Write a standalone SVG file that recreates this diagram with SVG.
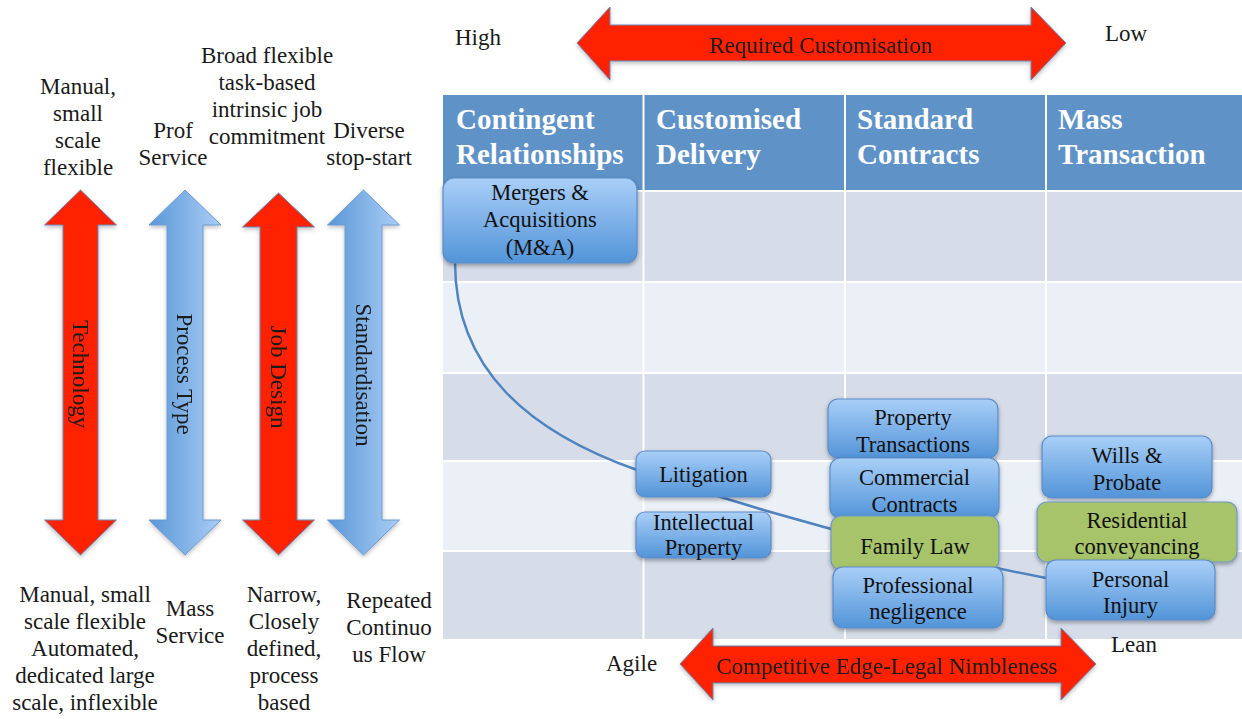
<svg xmlns="http://www.w3.org/2000/svg" width="1242" height="719" viewBox="0 0 1242 719">
<style>
  .t { font-family: "Liberation Serif", "Times New Roman", serif; font-size: 23px; fill: #1a1a1a; }
  .c { text-anchor: middle; }
  .n { font-family: "Liberation Serif", "Times New Roman", serif; font-size: 22.5px; fill: #111; text-anchor: middle; }
  .h { font-family: "Liberation Serif", "Times New Roman", serif; font-size: 29px; font-weight: bold; fill: #ffffff; }
  .hdr { fill: #5f93c8; }
  .dark { fill: #d6dde9; }
  .light { fill: #ebeff6; }
  .grid { stroke: #ffffff; stroke-width: 2; }
  .red { fill: #ff2200; stroke: #6a87b8; stroke-width: 1; }
  .blue { fill: url(#blueArrow); stroke: #6a9ad0; stroke-width: 1; }
  .box { fill: url(#nodeGrad); stroke: #5c8cc8; stroke-width: 1.2; filter: url(#shadow); }
  .green { fill: #a8c46a; stroke: #6f97c8; stroke-width: 1.2; filter: url(#shadow); }
  .conn { fill: none; stroke: #4f84c0; stroke-width: 2.5; }
</style>
<defs>
  <linearGradient id="blueArrow" x1="0" y1="0" x2="1" y2="0">
    <stop offset="0" stop-color="#5a97d6"/>
    <stop offset="1" stop-color="#a9cdf6"/>
  </linearGradient>
  <linearGradient id="nodeGrad" x1="0" y1="0" x2="0" y2="1">
    <stop offset="0" stop-color="#a9cff8"/>
    <stop offset="1" stop-color="#5294d8"/>
  </linearGradient>
  <filter id="shadow" x="-10%" y="-10%" width="125%" height="135%">
    <feDropShadow dx="0" dy="2" stdDeviation="2" flood-color="#000" flood-opacity="0.35"/>
  </filter>
  <filter id="ashadow" x="-20%" y="-10%" width="140%" height="125%">
    <feDropShadow dx="0" dy="2" stdDeviation="2" flood-color="#000" flood-opacity="0.25"/>
  </filter>
</defs>
<rect x="0" y="0" width="1242" height="719" fill="#ffffff"/>

<!-- Left side vertical arrows -->
<g id="arrow-technology" filter="url(#ashadow)">
  <polygon class="red" points="80.5,190 116.5,225 98,225 98,520 116.5,520 80.5,555 44.5,520 63,520 63,225 44.5,225"/>
  <text class="t c" transform="translate(72.5,374) rotate(90)" font-size="22.5">Technology</text>
</g>
<g id="arrow-process-type" filter="url(#ashadow)">
  <polygon class="blue" points="185,190 221,225 203,225 203,520 221,520 185,555 149,520 167,520 167,225 149,225"/>
  <text class="t c" transform="translate(177,374) rotate(90)" font-size="22.5">Process Type</text>
</g>
<g id="arrow-job-design" filter="url(#ashadow)">
  <polygon class="red" points="278.5,193 314.5,227 297,227 297,520 314.5,520 278.5,555 242.5,520 260,520 260,227 242.5,227"/>
  <text class="t c" transform="translate(270.5,377) rotate(90)" font-size="22.5">Job Design</text>
</g>
<g id="arrow-standardisation" filter="url(#ashadow)">
  <polygon class="blue" points="363.5,190 399.5,225 382,225 382,520 399.5,520 363.5,555 327.5,520 345,520 345,225 327.5,225"/>
  <text class="t c" transform="translate(355.5,375) rotate(90)" font-size="22.5">Standardisation</text>
</g>

<!-- Top labels of left side -->
<g id="label-tech-top">
  <text class="t c" x="78" y="94">Manual,</text>
  <text class="t c" x="78" y="121">small</text>
  <text class="t c" x="78" y="148">scale</text>
  <text class="t c" x="78" y="175">flexible</text>
</g>
<g id="label-process-top">
  <text class="t c" x="173" y="138">Prof</text>
  <text class="t c" x="173" y="165">Service</text>
</g>
<g id="label-job-top">
  <text class="t c" x="267" y="63">Broad flexible</text>
  <text class="t c" x="267" y="90">task-based</text>
  <text class="t c" x="267" y="117">intrinsic job</text>
  <text class="t c" x="267" y="144">commitment</text>
</g>
<g id="label-std-top">
  <text class="t c" x="369" y="138">Diverse</text>
  <text class="t c" x="369" y="165">stop-start</text>
</g>

<!-- Bottom labels of left side -->
<g id="label-tech-bottom">
  <text class="t c" x="85" y="602">Manual, small</text>
  <text class="t c" x="85" y="629">scale flexible</text>
  <text class="t c" x="85" y="656">Automated,</text>
  <text class="t c" x="85" y="683">dedicated large</text>
  <text class="t c" x="85" y="710">scale, inflexible</text>
</g>
<g id="label-process-bottom">
  <text class="t c" x="190" y="616">Mass</text>
  <text class="t c" x="190" y="643">Service</text>
</g>
<g id="label-job-bottom">
  <text class="t c" x="284" y="602">Narrow,</text>
  <text class="t c" x="284" y="629">Closely</text>
  <text class="t c" x="284" y="656">defined,</text>
  <text class="t c" x="284" y="683">process</text>
  <text class="t c" x="284" y="710">based</text>
</g>
<g id="label-std-bottom">
  <text class="t c" x="389" y="608">Repeated</text>
  <text class="t c" x="389" y="635">Continuo</text>
  <text class="t c" x="389" y="662">us Flow</text>
</g>

<!-- Top arrow -->
<g id="arrow-customisation" filter="url(#ashadow)">
  <polygon class="red" points="577,43 610,7 610,25 1031,25 1031,7 1066,43 1031,80 1031,61 610,61 610,80"/>
  <text class="t c" x="821" y="53" font-size="22.5">Required Customisation</text>
</g>
<text id="label-high" class="t" x="455" y="45" font-size="22">High</text>
<text id="label-low" class="t" x="1105" y="41" font-size="22">Low</text>

<!-- Table -->
<g id="table">
  <rect class="dark" x="443" y="191" width="799" height="91"/>
  <rect class="light" x="443" y="282" width="799" height="91"/>
  <rect class="dark" x="443" y="373" width="799" height="88"/>
  <rect class="light" x="443" y="461" width="799" height="90"/>
  <rect class="dark" x="443" y="551" width="799" height="88"/>
  <rect class="hdr" x="443" y="95" width="799" height="96"/>
  <line class="grid" x1="443" y1="191" x2="1242" y2="191" stroke-width="3"/>
  <line class="grid" x1="443" y1="282" x2="1242" y2="282"/>
  <line class="grid" x1="443" y1="373" x2="1242" y2="373"/>
  <line class="grid" x1="443" y1="461" x2="1242" y2="461"/>
  <line class="grid" x1="443" y1="551" x2="1242" y2="551"/>
  <line class="grid" x1="643.5" y1="95" x2="643.5" y2="639"/>
  <line class="grid" x1="845" y1="95" x2="845" y2="639"/>
  <line class="grid" x1="1046" y1="95" x2="1046" y2="639"/>
  <text class="h" x="456" y="129">Contingent</text>
  <text class="h" x="456" y="164">Relationships</text>
  <text class="h" x="656" y="129">Customised</text>
  <text class="h" x="656" y="164">Delivery</text>
  <text class="h" x="857" y="129">Standard</text>
  <text class="h" x="857" y="164">Contracts</text>
  <text class="h" x="1058" y="129">Mass</text>
  <text class="h" x="1058" y="164">Transaction</text>
</g>

<!-- Connectors -->
<g id="connectors">
  <path class="conn" d="M 455 262 C 455 370 530 432 637 470 C 760 512 900 550 1046 578"/>
</g>

<!-- Nodes -->
<g id="node-ma">
  <rect class="box" x="443" y="178" width="194" height="85" rx="11"/>
  <text class="n" x="540" y="200">Mergers &amp;</text>
  <text class="n" x="540" y="227">Acquisitions</text>
  <text class="n" x="540" y="255">(M&amp;A)</text>
</g>
<g id="node-litigation">
  <rect class="box" x="636" y="451" width="135" height="46" rx="9"/>
  <text class="n" x="703.5" y="482">Litigation</text>
</g>
<g id="node-ip">
  <rect class="box" x="636" y="512" width="135" height="46" rx="9"/>
  <text class="n" x="703.5" y="530">Intellectual</text>
  <text class="n" x="703.5" y="555">Property</text>
</g>
<g id="node-property">
  <rect class="box" x="828" y="399" width="170" height="59" rx="10"/>
  <text class="n" x="913" y="425">Property</text>
  <text class="n" x="913" y="452">Transactions</text>
</g>
<g id="node-commercial">
  <rect class="box" x="830" y="458" width="169" height="60" rx="10"/>
  <text class="n" x="914.5" y="485">Commercial</text>
  <text class="n" x="914.5" y="512">Contracts</text>
</g>
<g id="node-family">
  <rect class="green" x="831" y="516" width="168" height="54" rx="10"/>
  <text class="n" x="915" y="554">Family Law</text>
</g>
<g id="node-professional">
  <rect class="box" x="833" y="567" width="170" height="61" rx="10"/>
  <text class="n" x="918" y="593">Professional</text>
  <text class="n" x="918" y="619">negligence</text>
</g>
<g id="node-wills">
  <rect class="box" x="1042" y="436" width="170" height="62" rx="10"/>
  <text class="n" x="1127" y="463">Wills &amp;</text>
  <text class="n" x="1127" y="490">Probate</text>
</g>
<g id="node-residential">
  <rect class="green" x="1037" y="502" width="200" height="60" rx="10"/>
  <text class="n" x="1137" y="528">Residential</text>
  <text class="n" x="1137" y="554">conveyancing</text>
</g>
<g id="node-personal">
  <rect class="box" x="1046" y="560" width="169" height="60" rx="10"/>
  <text class="n" x="1130.5" y="587">Personal</text>
  <text class="n" x="1130.5" y="613">Injury</text>
</g>

<!-- Bottom arrow -->
<g id="arrow-nimbleness" filter="url(#ashadow)">
  <polygon class="red" points="680,664 713,628 713,646 1061,646 1061,628 1096,664 1061,700 1061,683 713,683 713,700"/>
  <text class="t c" x="887" y="674" font-size="22.5">Competitive Edge-Legal Nimbleness</text>
</g>
<text id="label-agile" class="t" x="606" y="671" font-size="22">Agile</text>
<text id="label-lean" class="t" x="1111" y="652" font-size="22">Lean</text>
</svg>
